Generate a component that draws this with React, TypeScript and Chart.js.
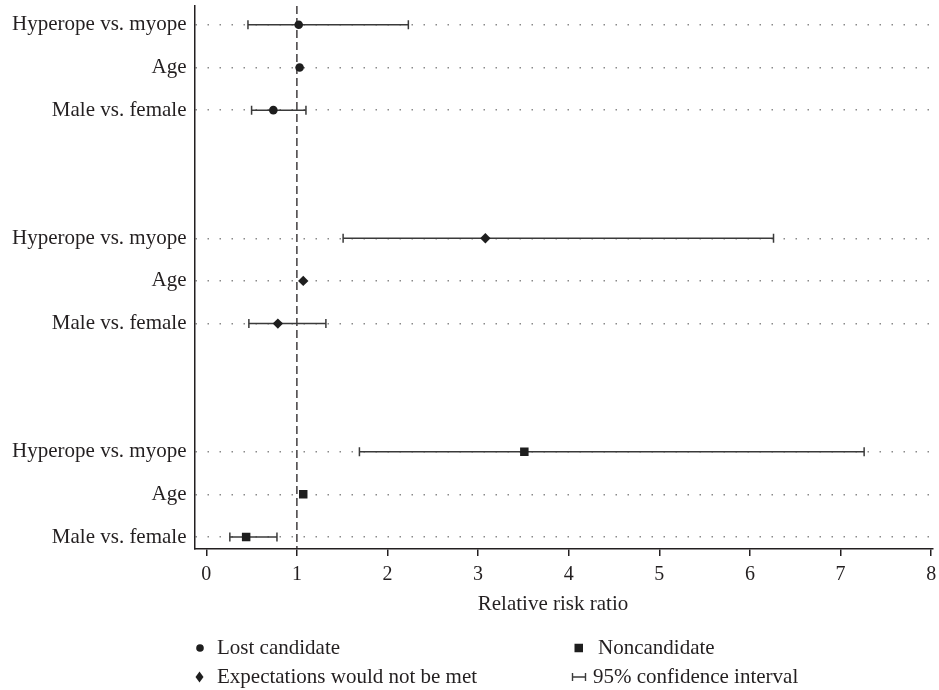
import React, { useEffect, useRef } from "react";
import { Chart, registerables } from "chart.js";

Chart.register(...registerables);

// ---------- data ----------
const factors = ["Hyperope vs. myope", "Age", "Male vs. female"];
const groups = ["Lost candidate", "Expectations would not be met", "Noncandidate"];

const lostRR = [1.02, 1.03, 0.74];
const lostLow: (number | null)[] = [0.46, null, 0.5];
const lostHigh: (number | null)[] = [2.23, null, 1.1];

const expRR = [3.08, 1.07, 0.79];
const expLow: (number | null)[] = [1.51, null, 0.47];
const expHigh: (number | null)[] = [6.26, null, 1.32];

const nonRR = [3.51, 1.07, 0.44];
const nonLow: (number | null)[] = [1.69, null, 0.26];
const nonHigh: (number | null)[] = [7.26, null, 0.78];

const xTicks = [0, 1, 2, 3, 4, 5, 6, 7, 8];
const refValue = 1;
const xTitle = "Relative risk ratio";
const ciLabel = "95% confidence interval";

// ---------- styling ----------
const FONT = "'Liberation Serif', 'Times New Roman', serif";
const TEXT = "#231f20";
const MARK = "#1e1e1e";
const CI = "#3a3a3a";
const X_MIN = -0.13;
const X_MAX = 8.02;
const Y_MIN = -0.44;
const Y_MAX = 12.28;

const gap = 2;
const rowOf = (g: number, i: number) => g * (factors.length + gap) + i;

const seriesRR = [lostRR, expRR, nonRR];
const seriesLow = [lostLow, expLow, nonLow];
const seriesHigh = [lostHigh, expHigh, nonHigh];
const pointStyles = ["circle", "rectRot", "rect"];
const pointRadii = [4.3, 5.2, 6];

const rowLabels: Record<number, string> = {};
groups.forEach((_, g) => factors.forEach((f, i) => (rowLabels[rowOf(g, i)] = f)));
const rowValues = Object.keys(rowLabels).map(Number);

const overlayPlugin = {
  id: "overlay",
  afterDraw(chart: any) {
    const ctx = chart.ctx as CanvasRenderingContext2D;
    ctx.save();
    ctx.font = `21px ${FONT}`;
    ctx.fillStyle = TEXT;
    ctx.textBaseline = "middle";
    // axis title
    ctx.textAlign = "center";
    ctx.fillText(xTitle, 553, 604);
    ctx.textAlign = "left";

    const r1 = 648;
    const r2 = 677;
    // circle
    ctx.fillStyle = MARK;
    ctx.beginPath();
    ctx.arc(200, r1, 3.8, 0, Math.PI * 2);
    ctx.fill();
    // diamond
    ctx.beginPath();
    ctx.moveTo(199.5, r2 - 5.5);
    ctx.lineTo(203.5, r2);
    ctx.lineTo(199.5, r2 + 5.5);
    ctx.lineTo(195.5, r2);
    ctx.closePath();
    ctx.fill();
    // square
    ctx.fillRect(574.5, r1 - 4.25, 8.5, 8.5);
    // CI symbol
    ctx.strokeStyle = CI;
    ctx.lineWidth = 1.4;
    ctx.beginPath();
    ctx.moveTo(572, r2);
    ctx.lineTo(586, r2);
    ctx.moveTo(572.5, r2 - 4);
    ctx.lineTo(572.5, r2 + 4);
    ctx.moveTo(585.5, r2 - 4);
    ctx.lineTo(585.5, r2 + 4);
    ctx.stroke();

    ctx.fillStyle = TEXT;
    ctx.fillText(groups[0], 217, r1);
    ctx.fillText(groups[1], 217, r2);
    ctx.fillText(groups[2], 598, r1);
    ctx.fillText(ciLabel, 593, r2);
    ctx.restore();
  },
};

export default function App() {
  const ref = useRef<HTMLCanvasElement | null>(null);

  useEffect(() => {
    if (!ref.current) return;
    const datasets: any[] = [];

    groups.forEach((name, g) => {
      datasets.push({
        type: "scatter",
        label: name,
        data: factors.map((_, i) => ({ x: seriesRR[g][i], y: rowOf(g, i) })),
        pointStyle: pointStyles[g],
        pointRadius: pointRadii[g],
        pointHoverRadius: pointRadii[g],
        backgroundColor: MARK,
        borderColor: MARK,
        borderWidth: 0,
        order: 0,
      });
    });

    groups.forEach((name, g) => {
      factors.forEach((f, i) => {
        const lo = seriesLow[g][i];
        const hi = seriesHigh[g][i];
        if (lo == null || hi == null) return;
        datasets.push({
          type: "line",
          label: `${name} – ${f} CI`,
          data: [
            { x: lo, y: rowOf(g, i) },
            { x: hi, y: rowOf(g, i) },
          ],
          borderColor: CI,
          borderWidth: 1.5,
          pointStyle: "line",
          pointRotation: 90,
          pointRadius: 4.5,
          pointHoverRadius: 4.5,
          pointBorderColor: CI,
          pointBorderWidth: 1.5,
          fill: false,
          order: 1,
        });
      });
    });

    datasets.push({
      type: "line",
      label: "Reference",
      data: [
        { x: refValue, y: Y_MIN },
        { x: refValue, y: Y_MAX },
      ],
      borderColor: TEXT,
      borderWidth: 1.3,
      borderDash: [8, 4],
      pointRadius: 0,
      fill: false,
      order: 2,
    });

    const chart = new Chart(ref.current, {
      type: "scatter",
      data: { datasets },
      plugins: [overlayPlugin],
      options: {
        animation: false,
        responsive: false,
        events: [],
        layout: { padding: { top: 0, right: 2, bottom: 0, left: 0 } },
        plugins: {
          legend: { display: false },
          tooltip: { enabled: false },
          title: { display: false },
        },
        scales: {
          x: {
            type: "linear",
            position: "bottom",
            min: X_MIN,
            max: X_MAX,
            afterBuildTicks: (s: any) => {
              s.ticks = xTicks.map((v) => ({ value: v }));
            },
            afterFit: (s: any) => {
              s.height = 141;
              s.paddingLeft = 0;
              s.paddingRight = 0;
            },
            grid: {
              drawOnChartArea: false,
              drawTicks: true,
              tickLength: 7,
              color: TEXT,
              lineWidth: 1.5,
            },
            border: { display: true, color: TEXT, width: 1.5 },
            ticks: {
              color: TEXT,
              font: { family: FONT, size: 20 },
              padding: 7,
              maxRotation: 0,
              autoSkip: false,
              callback: (v: any) => String(v),
            },
            title: { display: false },
          },
          y: {
            type: "linear",
            reverse: true,
            min: Y_MIN,
            max: Y_MAX,
            afterBuildTicks: (s: any) => {
              s.ticks = rowValues.map((v) => ({ value: v }));
            },
            afterFit: (s: any) => {
              s.width = 194.5;
              s.paddingTop = 0;
              s.paddingBottom = 0;
            },
            grid: {
              drawOnChartArea: true,
              drawTicks: false,
              color: "#8a8a8a",
              lineWidth: 1.4,
            },
            border: { display: true, color: TEXT, width: 1.5, dash: [1.5, 10.5] },
            ticks: {
              color: TEXT,
              font: { family: FONT, size: 21 },
              padding: 8,
              autoSkip: false,
              callback: (v: any) => rowLabels[v] ?? "",
            },
          },
        },
      } as any,
    });
    return () => chart.destroy();
  }, []);

  return (
    <div style={{ position: "fixed", left: 0, top: 0, width: 939, height: 690, background: "#fff" }}>
      <canvas ref={ref} width={939} height={690} style={{ display: "block" }} />
    </div>
  );
}
